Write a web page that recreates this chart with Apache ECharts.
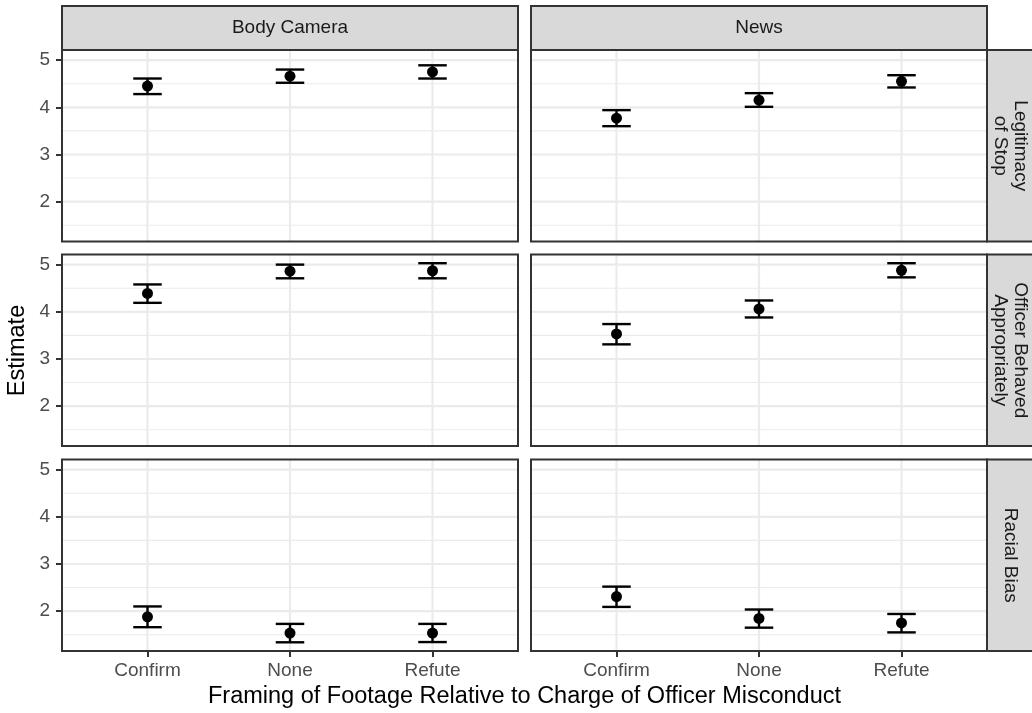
<!DOCTYPE html>
<html>
<head>
<meta charset="utf-8">
<script src="https://cdn.jsdelivr.net/npm/echarts@6/dist/echarts.min.js"></script>
<style>
  html, body { margin: 0; padding: 0; background: #ffffff; }
  #chart { width: 1032px; height: 713px; }
</style>
</head>
<body>
<div id="chart"></div>
<script>
// ---- data ----
const categories = ['Confirm', 'None', 'Refute'];
const sources = ['Body Camera', 'News'];
const outcomes = ['Legitimacy\nof Stop', 'Officer Behaved\nAppropriately', 'Racial Bias'];
const yTickValues = [2, 3, 4, 5];
const yMinorValues = [1.5, 2.5, 3.5, 4.5];

// Legitimacy of Stop
const estLegitimacyBody = [4.45, 4.66, 4.75];
const lowLegitimacyBody = [4.28, 4.52, 4.61];
const highLegitimacyBody = [4.61, 4.80, 4.89];
const estLegitimacyNews = [3.77, 4.15, 4.55];
const lowLegitimacyNews = [3.60, 4.01, 4.42];
const highLegitimacyNews = [3.94, 4.30, 4.68];

// Officer Behaved Appropriately
const estBehavedBody = [4.39, 4.86, 4.87];
const lowBehavedBody = [4.19, 4.71, 4.71];
const highBehavedBody = [4.58, 5.00, 5.03];
const estBehavedNews = [3.53, 4.06, 4.88];
const lowBehavedNews = [3.31, 3.88, 4.73];
const highBehavedNews = [3.74, 4.24, 5.03];

// Racial Bias
const estBiasBody = [1.88, 1.535, 1.535];
const lowBiasBody = [1.66, 1.34, 1.345];
const highBiasBody = [2.10, 1.73, 1.73];
const estBiasNews = [2.31, 1.845, 1.75];
const lowBiasNews = [2.09, 1.65, 1.55];
const highBiasNews = [2.52, 2.035, 1.94];

// rows = outcomes, columns = sources
const panelData = [
  [[estLegitimacyBody, lowLegitimacyBody, highLegitimacyBody], [estLegitimacyNews, lowLegitimacyNews, highLegitimacyNews]],
  [[estBehavedBody, lowBehavedBody, highBehavedBody], [estBehavedNews, lowBehavedNews, highBehavedNews]],
  [[estBiasBody, lowBiasBody, highBiasBody], [estBiasNews, lowBiasNews, highBiasNews]]
];

// ---- shared y scale (range of all intervals, expanded 5% each side) ----
const allLow = panelData.flat().flatMap(p => p[1]);
const allHigh = panelData.flat().flatMap(p => p[2]);
const dMin = Math.min(...allLow), dMax = Math.max(...allHigh);
const yPad = (dMax - dMin) * 0.05;
const yMin = dMin - yPad, yMax = dMax + yPad;
// discrete x scale: positions 1..n, expanded by 0.6
const xMin = 0.4, xMax = categories.length + 0.6;

// ---- layout ----
const FONT = '"Liberation Sans", Arial, Helvetica, sans-serif';
const colLeft = [62, 531];
const colW = 456;
const rowTop = [50, 254.5, 459.5];
const rowH = 191.5;
const stripTop = 6;
const stripRightX = colLeft[1] + colW;
const stripRightW = 50;
const borderColor = '#333333';
const stripFill = '#D9D9D9';
const gridColor = '#EBEBEB';
const capWidth = 0.2;

const grids = [], xAxes = [], yAxes = [], series = [], graphics = [];

function gridLineRender(params, api) {
  const cs = params.coordSys;
  const kind = api.value(2);
  const p = api.coord([api.value(0), api.value(1)]);
  if (kind === 2) {
    return { type: 'line', shape: { x1: p[0], y1: cs.y, x2: p[0], y2: cs.y + cs.height },
             style: { stroke: gridColor, lineWidth: 2.2 } };
  }
  return { type: 'line', shape: { x1: cs.x, y1: p[1], x2: cs.x + cs.width, y2: p[1] },
           style: { stroke: gridColor, lineWidth: kind === 0 ? 2.2 : 1.1 } };
}

function errorBarRender(params, api) {
  const x = api.value(0);
  const pLo = api.coord([x, api.value(1)]);
  const pHi = api.coord([x, api.value(2)]);
  const half = api.size([capWidth, 0])[0] / 2;
  const st = { stroke: '#000000', lineWidth: 2.4 };
  return {
    type: 'group',
    children: [
      { type: 'line', shape: { x1: pLo[0], y1: pLo[1], x2: pHi[0], y2: pHi[1] }, style: st },
      { type: 'line', shape: { x1: pLo[0] - half, y1: pLo[1], x2: pLo[0] + half, y2: pLo[1] }, style: st },
      { type: 'line', shape: { x1: pHi[0] - half, y1: pHi[1], x2: pHi[0] + half, y2: pHi[1] }, style: st }
    ]
  };
}

const xPositions = categories.map((c, i) => i + 1);
const gridLineData = [
  ...yTickValues.map(v => [2, v, 0]),
  ...yMinorValues.map(v => [2, v, 1]),
  ...xPositions.map(x => [x, 3, 2])
];

let idx = 0;
for (let r = 0; r < outcomes.length; r++) {
  for (let c = 0; c < sources.length; c++) {
    const isBottom = r === outcomes.length - 1;
    const isLeft = c === 0;
    grids.push({ left: colLeft[c], top: rowTop[r], width: colW, height: rowH,
                 show: true, backgroundColor: '#ffffff', borderWidth: 0 });
    xAxes.push({
      type: 'value', gridIndex: idx, min: xMin, max: xMax,
      axisLine: { show: false },
      splitLine: { show: false },
      axisTick: { show: isBottom, customValues: xPositions, length: 6,
                  lineStyle: { color: borderColor, width: 2 } },
      axisLabel: { show: isBottom, customValues: xPositions, margin: 10,
                   formatter: v => categories[Math.round(v) - 1],
                   color: '#4D4D4D', fontSize: 19, fontFamily: FONT }
    });
    yAxes.push({
      type: 'value', gridIndex: idx, min: yMin, max: yMax,
      axisLine: { show: false },
      splitLine: { show: false },
      axisTick: { show: isLeft, customValues: yTickValues, length: 6,
                  lineStyle: { color: borderColor, width: 2 } },
      axisLabel: { show: isLeft, customValues: yTickValues, margin: 12,
                   formatter: v => String(v),
                   color: '#4D4D4D', fontSize: 19, fontFamily: FONT }
    });
    series.push({
      type: 'custom', xAxisIndex: idx, yAxisIndex: idx, z: 1, silent: true,
      renderItem: gridLineRender, data: gridLineData
    });
    const [est, low, high] = panelData[r][c];
    series.push({
      type: 'custom', xAxisIndex: idx, yAxisIndex: idx, z: 2, silent: true,
      renderItem: errorBarRender,
      data: categories.map((cat, i) => [i + 1, low[i], high[i]])
    });
    series.push({
      type: 'scatter', xAxisIndex: idx, yAxisIndex: idx, z: 3, silent: true,
      symbol: 'circle', symbolSize: 11,
      itemStyle: { color: '#000000', opacity: 1 },
      data: categories.map((cat, i) => [i + 1, est[i]])
    });
    // panel border
    graphics.push({ type: 'rect', z: 100,
      shape: { x: colLeft[c], y: rowTop[r], width: colW, height: rowH },
      style: { fill: 'none', stroke: borderColor, lineWidth: 2 } });
    idx++;
  }
}

// column strips
sources.forEach((s, c) => {
  graphics.push({ type: 'rect', z: 90,
    shape: { x: colLeft[c], y: stripTop, width: colW, height: rowTop[0] - stripTop },
    style: { fill: stripFill, stroke: borderColor, lineWidth: 2 } });
  graphics.push({ type: 'text', z: 101,
    x: colLeft[c] + colW / 2, y: (stripTop + rowTop[0]) / 2,
    style: { text: s, fill: '#1A1A1A', fontSize: 19, fontFamily: FONT,
             textAlign: 'center', textVerticalAlign: 'middle' } });
});

// row strips
outcomes.forEach((o, r) => {
  graphics.push({ type: 'rect', z: 90,
    shape: { x: stripRightX, y: rowTop[r], width: stripRightW, height: rowH },
    style: { fill: stripFill, stroke: borderColor, lineWidth: 2 } });
  graphics.push({ type: 'text', z: 101,
    x: stripRightX + 23.5, y: rowTop[r] + rowH / 2, rotation: -Math.PI / 2,
    style: { text: o, fill: '#1A1A1A', fontSize: 19, fontFamily: FONT, lineHeight: 20,
             textAlign: 'center', textVerticalAlign: 'middle' } });
});

// axis titles
graphics.push({ type: 'text', z: 101,
  x: (colLeft[0] + colLeft[1] + colW) / 2, y: 697,
  style: { text: 'Framing of Footage Relative to Charge of Officer Misconduct',
           fill: '#000000', fontSize: 23.5, fontFamily: FONT,
           textAlign: 'center', textVerticalAlign: 'middle' } });
graphics.push({ type: 'text', z: 101,
  x: 18, y: (rowTop[0] + rowTop[2] + rowH) / 2, rotation: Math.PI / 2,
  style: { text: 'Estimate', fill: '#000000', fontSize: 23.5, fontFamily: FONT,
           textAlign: 'center', textVerticalAlign: 'middle' } });

const chart = echarts.init(document.getElementById('chart'), null, { renderer: 'canvas' });
chart.setOption({
  animation: false,
  backgroundColor: '#ffffff',
  grid: grids,
  xAxis: xAxes,
  yAxis: yAxes,
  series: series,
  graphic: graphics
});
</script>
</body>
</html>
